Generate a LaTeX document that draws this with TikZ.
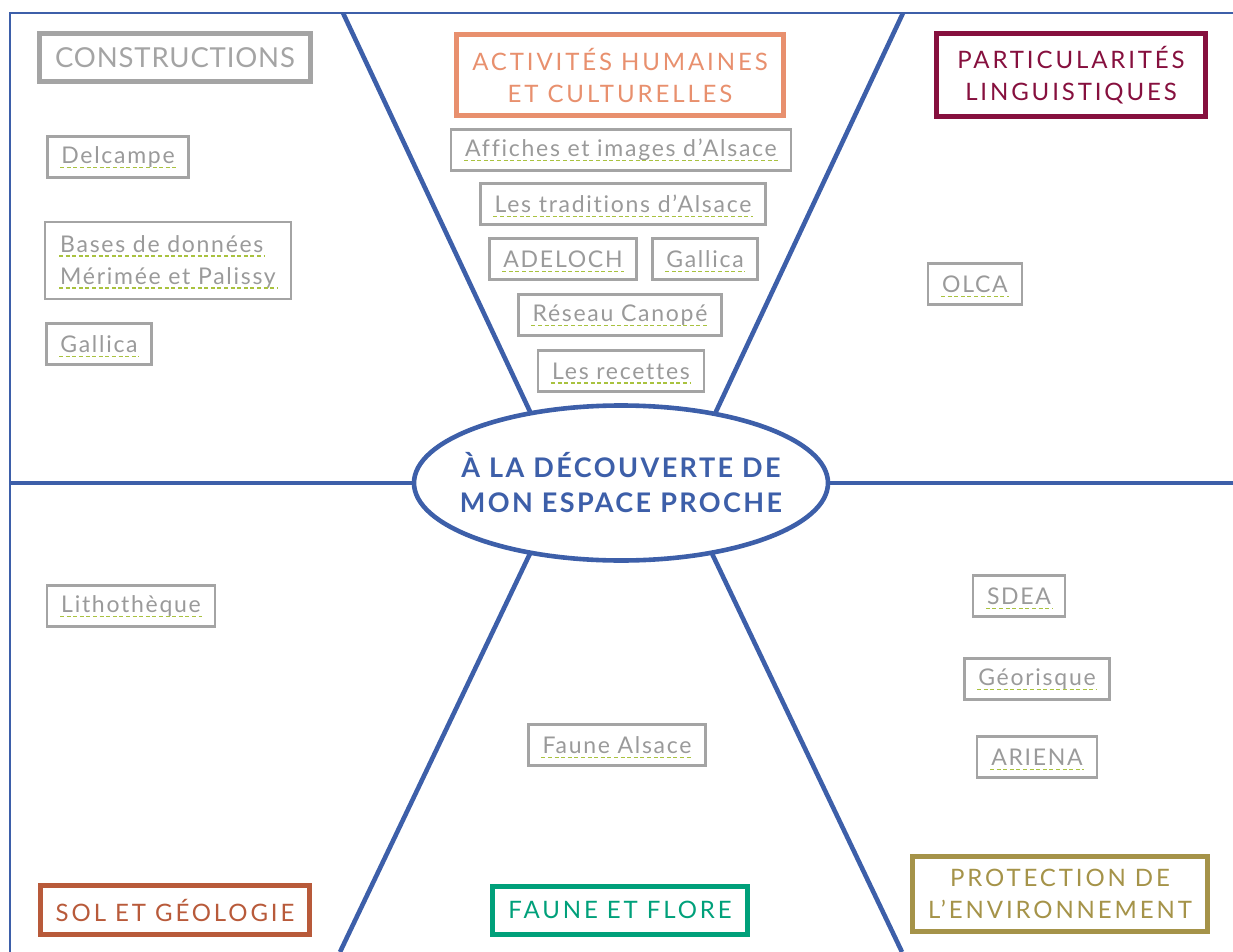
\documentclass[tikz,border=0pt]{standalone}
\usepackage{fontspec}
\setmainfont[LetterSpace=7.5,Ligatures=NoCommon]{Lato}
\newfontfamily\titrefont[LetterSpace=12,Ligatures=NoCommon]{Lato}
\newfontfamily\grandtitrefont[LetterSpace=3]{Lato}
\newfontfamily\centrefont[LetterSpace=9]{Lato}
\usepackage{tikz}
\usetikzlibrary{fit}
\usetikzlibrary{shapes.geometric}
\definecolor{bleu}{HTML}{3D5FA9}
\definecolor{gris}{HTML}{A4A4A4}
\definecolor{gristexte}{HTML}{9A9A9A}
\definecolor{vert}{HTML}{A9C23F}
\definecolor{saumon}{HTML}{E8906E}
\definecolor{bordeaux}{HTML}{86103E}
\definecolor{rouille}{HTML}{B85A3A}
\definecolor{emeraude}{HTML}{00A07A}
\definecolor{olive}{HTML}{A59349}

\begin{document}
\begin{tikzpicture}[x=1pt,y=-1pt]
\tikzstyle{cadre} =[draw=bleu,line width=2pt]
\tikzstyle{trait} =[draw=bleu,line width=4.6pt]
\tikzstyle{theme} =[line width=5pt,align=center,inner xsep=15.5pt,inner ysep=13pt,minimum height=48pt,font=\titrefont\fontsize{24}{32}\selectfont]
\tikzstyle{souligne} =[draw=vert,line width=1.4pt,dash pattern=on 4pt off 2.6pt]
\tikzstyle{lien} =[draw=gris,line width=2.4pt,text=gristexte,inner xsep=14pt,minimum height=41pt,font=\fontsize{23}{32}\selectfont,
  append after command={([xshift=14pt,yshift=-4pt]\tikzlastnode.base west) edge[souligne] ([xshift=-14pt,yshift=-4pt]\tikzlastnode.base east)}]

\useasboundingbox (0,0) rectangle (1233,952);

% cadre et rayons
\coordinate (c1) at (10,952);
\coordinate (c2) at (10,13);
\coordinate (c3) at (1233,13);
\draw[cadre] (c1) -- (c2) -- (c3);

\coordinate (hg) at (343,13);
\coordinate (hg2) at (548,450);
\coordinate (hd) at (903,13);
\coordinate (hd2) at (698,450);
\coordinate (bg) at (340,952);
\coordinate (bg2) at (546,520);
\coordinate (bd) at (902,952);
\coordinate (bd2) at (696,520);
\coordinate (mg) at (10,483);
\coordinate (md) at (1233,483);
\draw[trait] (hg) -- (hg2);
\draw[trait] (hd) -- (hd2);
\draw[trait] (bg) -- (bg2);
\draw[trait] (bd) -- (bd2);
\draw[trait] (mg) -- (md);

\node[ellipse,draw=bleu,line width=4.6pt,fill=white,minimum width=414pt,minimum height=155pt,inner sep=0pt](centre) at (621,483){};
\node[align=center,text=bleu,font=\centrefont\bfseries\fontsize{27}{35}\selectfont](titre) at (centre){À LA DÉCOUVERTE DE\\MON ESPACE PROCHE};

% themes
\node[theme,draw=gris,text=gris,font=\grandtitrefont\fontsize{27.5}{32}\selectfont](cons) at (175,58){CONSTRUCTIONS};
\node[theme,draw=saumon,text=saumon](act) at (620,75){ACTIVITÉS HUMAINES\\ET CULTURELLES};
\node[theme,draw=bordeaux,text=bordeaux,minimum width=269pt](ling) at (1071,75){PARTICULARITÉS\\LINGUISTIQUES};
\node[theme,draw=rouille,text=rouille](sol) at (175,910){SOL ET GÉOLOGIE};
\node[theme,draw=emeraude,text=emeraude](faune) at (620,910){FAUNE ET FLORE};
\node[theme,draw=olive,text=olive](env) at (1060,894){PROTECTION DE\\L’ENVIRONNEMENT};

% liens
\node[lien](delcampe) at (118,157){Delcampe};
\node[lien,draw=none,anchor=base west](b1) at (45,252){Bases de données};
\node[lien,draw=none,anchor=base west](b2) at (45,284){Mérimée et Palissy};
\node[draw=gris,line width=2.4pt,inner sep=0pt,fit=(b1)(b2)](bases){};
\node[lien](gallica1) at (99,344){Gallica};

\node[lien](affiches) at (621,150){Affiches et images d’Alsace};
\node[lien](traditions) at (623,204){Les traditions d’Alsace};
\node[lien](adeloch) at (563,259){ADELOCH};
\node[lien](gallica2) at (705,259){Gallica};
\node[lien](canope) at (620,315){Réseau Canopé};
\node[lien](recettes) at (621,371){Les recettes};

\node[lien](olca) at (975,284){OLCA};

\node[lien](litho) at (131,606){Lithothèque};
\node[lien](fauneals) at (617,745){Faune Alsace};

\node[lien](sdea) at (1019,596){SDEA};
\node[lien](georisque) at (1037,679){Géorisque};
\node[lien](ariena) at (1037,757){ARIENA};
\end{tikzpicture}
\end{document}
